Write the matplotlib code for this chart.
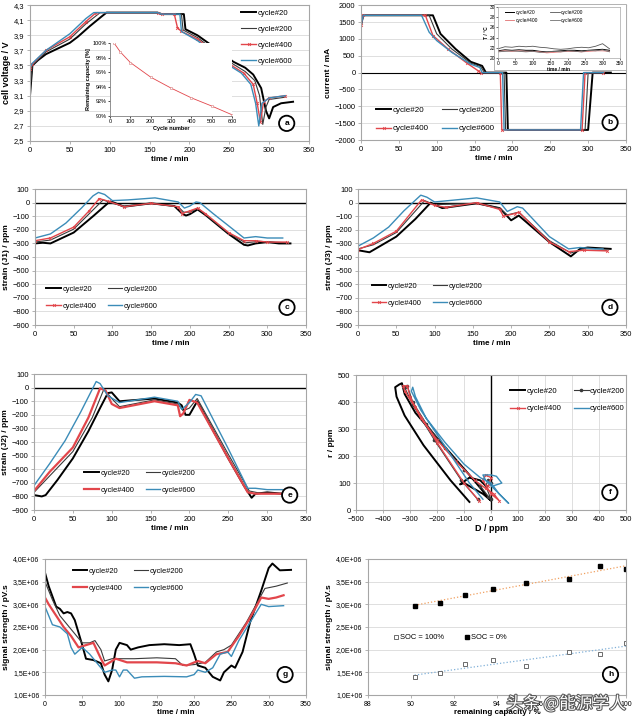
import numpy as np
import matplotlib
matplotlib.use('Agg')
import matplotlib.pyplot as plt
from matplotlib.ticker import FuncFormatter, MultipleLocator, FixedLocator
import matplotlib.patheffects as pe

plt.rcParams['font.family'] = ['Liberation Sans', 'DejaVu Sans']
plt.rcParams['font.size'] = 6

# ---------------- data ----------------
# (a) cell voltage
a20_t = [0, 3, 10, 20, 40, 50, 60, 75, 90, 96, 160, 165, 193, 195, 210, 230, 255, 270, 280, 290, 296, 300, 305, 315, 330]
a20_v = [3.1, 3.5, 3.57, 3.65, 3.75, 3.8, 3.88, 4.02, 4.15, 4.2, 4.2, 4.18, 4.18, 3.98, 3.9, 3.75, 3.55, 3.47, 3.38, 3.2, 2.9, 2.8, 2.95, 3.0, 3.02]
a200_t = [0, 3, 20, 50, 70, 88, 160, 165, 190, 192, 210, 250, 270, 282, 288, 292, 296, 300, 320]
a200_v = [3.2, 3.5, 3.68, 3.85, 4.05, 4.2, 4.2, 4.18, 4.18, 3.97, 3.87, 3.55, 3.42, 3.3, 3.1, 2.72, 2.95, 3.05, 3.08]
a400_t = [0, 3, 20, 50, 70, 83, 160, 165, 181, 185, 190, 210, 250, 268, 280, 285, 289, 293, 300, 320]
a400_v = [3.45, 3.52, 3.7, 3.88, 4.08, 4.2, 4.2, 4.18, 4.18, 4.0, 3.95, 3.85, 3.52, 3.4, 3.25, 3.0, 2.75, 3.02, 3.07, 3.1]
a600_t = [0, 3, 20, 50, 70, 80, 160, 165, 188, 190, 210, 250, 265, 277, 283, 287, 291, 300, 320]
a600_v = [3.47, 3.53, 3.7, 3.92, 4.12, 4.2, 4.2, 4.18, 4.18, 3.95, 3.83, 3.5, 3.4, 3.25, 3.0, 2.7, 3.0, 3.07, 3.1]
volt_ticks = [2.5, 2.7, 2.9, 3.1, 3.3, 3.5, 3.7, 3.9, 4.1, 4.3]

# inset (a): remaining capacity vs cycle
cycles = [20, 50, 100, 200, 300, 400, 500, 600]
capacity = [100.0, 98.8, 97.33, 95.33, 93.83, 92.49, 91.37, 90.17]

# (b) current
b20_t = [0, 3, 95, 105, 125, 145, 160, 165, 192, 194, 300, 306, 330]
b20_i = [1400, 1700, 1700, 1150, 700, 320, 200, 0, 0, -1700, -1700, 0, 0]
b200_t = [0, 3, 90, 100, 120, 145, 158, 163, 189, 191, 296, 300, 320]
b200_i = [1400, 1700, 1700, 1150, 700, 280, 180, 0, 0, -1700, -1700, 0, 0]
b400_t = [0, 3, 85, 95, 115, 140, 155, 158, 184, 186, 292, 296, 320]
b400_i = [1400, 1700, 1700, 1100, 700, 280, 50, 0, 0, -1700, -1700, 0, 0]
b600_t = [0, 3, 80, 90, 100, 120, 145, 157, 160, 187, 189, 290, 294, 320]
b600_i = [1400, 1700, 1700, 1200, 950, 600, 250, 150, 0, 0, -1700, -1700, 0, 0]

# inset (b): temperature
temp_t = [0, 20, 40, 60, 80, 100, 120, 140, 160, 180, 200, 220, 240, 260, 280, 300, 320]
temp20 = [21.4, 21.6, 21.5, 21.6, 21.5, 21.5, 21.3, 21.2, 21.3, 21.4, 21.5, 21.5, 21.4, 21.5, 21.6, 21.7, 21.5]
temp200 = [21.8, 22.2, 22.1, 22.3, 22.2, 22.3, 22.1, 22.0, 21.8, 21.7, 21.8, 22.0, 22.1, 22.0, 22.3, 22.8, 21.8]
temp400 = [21.3, 21.4, 21.3, 21.4, 21.3, 21.3, 21.2, 21.0, 21.1, 21.2, 21.3, 21.3, 21.2, 21.3, 21.4, 21.4, 21.3]
temp600 = [21.2, 21.3, 21.4, 21.3, 21.2, 21.3, 21.1, 21.2, 21.3, 21.2, 21.4, 21.3, 21.2, 21.5, 21.4, 21.6, 21.2]

# (c) strain J1
c20_t = [0, 10, 20, 50, 75, 95, 100, 115, 150, 180, 190, 195, 200, 210, 220, 250, 270, 275, 285, 300, 315, 330]
c20_s = [-300, -295, -300, -220, -100, 0, 5, -30, -5, -25, -80, -95, -85, -50, -90, -230, -310, -315, -300, -290, -300, -300]
c200_t = [0, 20, 50, 88, 100, 115, 150, 185, 192, 200, 210, 250, 272, 290, 325]
c200_s = [-290, -275, -195, 20, -5, -25, -5, -30, -70, -70, -40, -225, -295, -285, -295]
c400_t = [0, 20, 50, 70, 83, 95, 115, 150, 185, 190, 200, 210, 220, 250, 270, 285, 300, 325]
c400_s = [-280, -260, -180, -60, 30, 10, -30, -5, -30, -80, -60, -40, -80, -220, -280, -280, -290, -290]
c600_t = [0, 20, 40, 60, 75, 82, 90, 100, 120, 155, 185, 193, 200, 208, 213, 230, 250, 270, 285, 300, 320]
c600_s = [-260, -230, -150, -40, 50, 75, 60, 15, 20, 35, 5, -40, -25, 5, 0, -80, -170, -260, -250, -260, -260]

# (d) strain J3
d20_t = [0, 15, 50, 75, 95, 110, 155, 185, 200, 210, 250, 278, 290, 300, 330]
d20_s = [-350, -365, -250, -120, 0, -40, -5, -40, -130, -95, -290, -395, -340, -330, -340]
d200_t = [0, 20, 50, 87, 100, 155, 185, 195, 210, 250, 278, 290, 325]
d200_s = [-340, -310, -220, 15, -15, -5, -40, -90, -70, -280, -370, -350, -350]
d400_t = [0, 20, 50, 83, 100, 115, 155, 185, 190, 205, 210, 250, 275, 295, 325]
d400_s = [-345, -300, -210, 20, -20, -35, 0, -50, -100, -80, -70, -290, -360, -350, -355]
d600_t = [0, 20, 40, 60, 82, 90, 100, 155, 185, 195, 208, 215, 250, 275, 290, 310, 320]
d600_s = [-320, -260, -180, -60, 55, 40, 5, 35, 5, -65, -30, -40, -250, -340, -330, -340, -340]

# (e) strain J2
e20_t = [0, 10, 15, 30, 50, 70, 85, 95, 100, 110, 155, 185, 190, 195, 200, 210, 250, 270, 280, 285, 300, 320]
e20_s = [-790, -800, -790, -680, -520, -320, -150, -40, -35, -100, -80, -110, -130, -200, -200, -100, -520, -720, -810, -780, -770, -780]
e200_t = [0, 20, 50, 75, 90, 100, 110, 155, 185, 192, 200, 210, 250, 277, 290, 320]
e200_s = [-770, -650, -470, -220, -10, -80, -140, -90, -120, -170, -150, -80, -490, -760, -775, -780]
e400_t = [0, 20, 50, 70, 85, 92, 100, 110, 155, 185, 188, 192, 200, 210, 250, 275, 285, 320]
e400_s = [-760, -620, -440, -220, -5, -20, -120, -150, -100, -130, -210, -190, -90, -110, -520, -770, -780, -780]
e600_t = [0, 20, 40, 60, 80, 85, 95, 110, 155, 185, 190, 200, 208, 215, 250, 275, 285, 300, 320]
e600_s = [-720, -560, -390, -180, 45, 30, -60, -110, -70, -100, -160, -110, -50, -60, -450, -740, -740, -750, -750]

# (f) r vs D
f20_d = [-80, -150, -250, -320, -350, -355, -340, -330, -320, -280, -220, -150, -80, -30, -5, 0, -30, -100, -115, -80, -40, -20]
f20_r = [30, 110, 240, 350, 420, 455, 465, 470, 430, 360, 290, 210, 130, 70, 40, 35, 60, 100, 95, 120, 110, 90]
f200_d = [-50, -110, -210, -290, -320, -310, -290, -240, -170, -100, -40, -10, 0, -20, -10, 0]
f200_r = [40, 110, 260, 390, 455, 460, 400, 320, 230, 150, 90, 50, 40, 90, 110, 100]
f400_d = [-45, -100, -200, -280, -320, -325, -310, -300, -260, -200, -130, -60, -20, 10, 30, 0, -30, -20, 0, -10]
f400_r = [35, 100, 250, 380, 440, 460, 460, 420, 340, 260, 180, 110, 80, 60, 35, 60, 110, 130, 120, 90]
f600_d = [-30, -80, -180, -260, -295, -290, -280, -240, -170, -100, -40, 0, 30, 65, 30, -20, -30, 0, 20, 40, 10]
f600_r = [40, 100, 250, 370, 440, 455, 420, 340, 250, 170, 120, 100, 60, 25, 60, 110, 130, 130, 125, 100, 90]

# (g) signal strength
g20_t = [0, 5, 15, 20, 25, 30, 35, 40, 50, 55, 65, 75, 80, 85, 90, 95, 100, 110, 115, 125, 140, 160, 180, 195, 200, 205, 215, 225, 235, 240, 250, 255, 265, 275, 290, 300, 305, 315, 330]
g20_s = [3.7, 3.4, 2.95, 2.9, 2.8, 2.83, 2.8, 2.65, 2.1, 1.8, 1.77, 1.7, 1.45, 1.3, 1.55, 2.0, 2.15, 2.1, 2.0, 2.05, 2.1, 2.12, 2.1, 2.12, 1.9, 1.65, 1.6, 1.4, 1.32, 1.5, 1.65, 1.6, 1.95, 2.6, 3.3, 3.8, 3.9, 3.75, 3.76]
g200_t = [0, 10, 20, 30, 40, 50, 60, 67, 75, 80, 90, 100, 120, 150, 175, 185, 200, 215, 230, 240, 250, 270, 285, 295, 310, 325]
g200_s = [3.5, 3.1, 2.75, 2.55, 2.35, 2.15, 2.15, 2.2, 2.0, 1.75, 1.8, 1.8, 1.8, 1.82, 1.8, 1.65, 1.67, 1.72, 1.95, 2.0, 2.1, 2.6, 3.05, 3.35, 3.4, 3.47]
g400_t = [0, 5, 15, 25, 35, 45, 55, 65, 75, 80, 95, 110, 150, 175, 190, 205, 215, 230, 245, 260, 275, 290, 300, 310, 320]
g400_s = [3.15, 3.0, 2.75, 2.5, 2.3, 2.05, 2.1, 2.15, 1.8, 1.65, 1.8, 1.72, 1.72, 1.7, 1.65, 1.75, 1.7, 1.9, 1.95, 2.3, 2.7, 3.15, 3.12, 3.15, 3.2]
g600_t = [0, 5, 10, 20, 30, 35, 40, 50, 60, 70, 80, 90, 95, 100, 105, 110, 120, 130, 160, 190, 200, 205, 215, 225, 235, 245, 250, 260, 275, 290, 300, 320]
g600_s = [2.95, 2.75, 2.55, 2.5, 2.35, 2.05, 1.9, 2.05, 1.9, 1.7, 1.5, 1.55, 1.55, 1.4, 1.55, 1.55, 1.37, 1.4, 1.41, 1.4, 1.45, 1.55, 1.5, 1.6, 1.9, 1.95, 1.85, 2.2, 2.6, 3.0, 2.95, 2.97]

# (h) signal strength vs remaining capacity
h_cap = [90.17, 91.37, 92.49, 93.83, 95.33, 97.33, 98.8, 100.0]
h_soc0 = [2.97, 3.04, 3.21, 3.33, 3.47, 3.56, 3.85, 3.77]
h_soc100 = [1.40, 1.48, 1.68, 1.78, 1.64, 1.95, 1.91, 2.14]

labels = ['cycle#20', 'cycle#200', 'cycle#400', 'cycle#600']

# ---------------- styling ----------------
BLACK = '#000000'
GRAY = '#3a3a3a'
RED = '#e2464b'
BLUE = '#3b8cb8'
GRID = '#d9d9d9'
LFS = 5.4   # legend font size
XFS = 5.8   # x label size
YFS = 6     # y label size
TFS = 5.4   # tick label size


def comma(fmt):
    return FuncFormatter(lambda v, p: (fmt % v).replace('.', ','))


def sci(v, p):
    return ('%.1f' % (v / 1e6)).replace('.', ',') + 'E+06'


def style(ax, grid_x=False, tfs=TFS):
    for s in ax.spines.values():
        s.set_color('#a6a6a6')
        s.set_linewidth(0.8)
    ax.tick_params(labelsize=tfs, length=2, width=0.6, color='#a6a6a6', pad=2)
    ax.grid(axis='y', color=GRID, lw=0.6)
    if grid_x:
        ax.grid(axis='x', color=GRID, lw=0.6)
    ax.set_axisbelow(True)


def badge(ax, letter, x, y):
    ax.text(x, y, letter, transform=ax.transAxes, ha='center', va='center',
            fontsize=6, fontweight='bold',
            bbox=dict(boxstyle='circle,pad=0.5', fc='white', ec='black', lw=1.3), zorder=10)


def draw4(ax, data, red_marker='x', red_lw=1.0):
    (t1, y1), (t2, y2), (t3, y3), (t4, y4) = data
    h1, = ax.plot(t1, y1, color=BLACK, lw=1.4, label=labels[0])
    h2, = ax.plot(t2, y2, color=GRAY, lw=0.8, label=labels[1])
    h3, = ax.plot(t3, y3, color=RED, lw=red_lw, marker=red_marker, ms=2, mew=0.6, label=labels[2])
    h4, = ax.plot(t4, y4, color=BLUE, lw=1.0, label=labels[3])
    return [h1, h2, h3, h4]


def legend2(ax, handles, x, y, fs=LFS):
    order = [handles[0], handles[2], handles[1], handles[3]]
    ax.legend(order, [h.get_label() for h in order], ncol=2, loc='upper left',
              bbox_to_anchor=(x, y), frameon=False, fontsize=fs, handlelength=1.9,
              handletextpad=0.2, columnspacing=1.6, labelspacing=1.3, borderaxespad=0, borderpad=0.2)


fig = plt.figure(figsize=(6.37, 7.21), dpi=100)

# ---- (a)
ax = fig.add_axes([0.0471, 0.8044, 0.438, 0.1886])
style(ax)
hs = draw4(ax, [(a20_t, a20_v), (a200_t, a200_v), (a400_t, a400_v), (a600_t, a600_v)])
ax.set_xlim(0, 350)
ax.set_ylim(2.5, 4.3)
ax.xaxis.set_major_locator(MultipleLocator(50))
ax.yaxis.set_major_locator(FixedLocator(volt_ticks))
ax.yaxis.set_major_formatter(comma('%.1f'))
ax.set_xlabel('time / min', fontsize=XFS, fontweight='bold', labelpad=2)
ax.set_ylabel('cell voltage / V', fontsize=6.5, fontweight='bold', labelpad=2)
ax.legend(hs, labels, loc='upper left', bbox_to_anchor=(0.75, 0.98), frameon=False, fontsize=5.6,
          handlelength=2.0, handletextpad=0.2, labelspacing=1.1, borderaxespad=0, borderpad=0.2)
badge(ax, 'a', 0.92, 0.13)

axi = fig.add_axes([0.1727, 0.8391, 0.1915, 0.1012])
axi.plot(cycles, np.array(capacity) / 100, color=RED, lw=0.6, marker='o', ms=1.8,
         mfc='white', mec='#d98080', mew=0.4)
axi.set_xlim(0, 600)
axi.set_ylim(0.9, 1.0)
axi.xaxis.set_major_locator(MultipleLocator(100))
axi.yaxis.set_major_locator(MultipleLocator(0.02))
axi.yaxis.set_major_formatter(FuncFormatter(lambda v, p: '%d%%' % round(v * 100)))
axi.tick_params(labelsize=4, length=1.5, width=0.5, pad=1)
for s in ['top', 'right']:
    axi.spines[s].set_visible(False)
for s in ['left', 'bottom']:
    axi.spines[s].set_color('#808080')
    axi.spines[s].set_linewidth(0.6)
axi.set_xlabel('Cycle number', fontsize=4, fontweight='bold', labelpad=1)
axi.set_ylabel('Remaining capacity [%]', fontsize=4, fontweight='bold', labelpad=1)

# ---- (b)
ax = fig.add_axes([0.5667, 0.8058, 0.416, 0.187])
style(ax)
ax.axhline(0, color=BLACK, lw=0.8, zorder=1)
hs = draw4(ax, [(b20_t, b20_i), (b200_t, b200_i), (b400_t, b400_i), (b600_t, b600_i)])
ax.set_xlim(0, 350)
ax.set_ylim(-2000, 2000)
ax.xaxis.set_major_locator(MultipleLocator(50))
ax.yaxis.set_major_locator(MultipleLocator(500))
ax.set_xlabel('time / min', fontsize=XFS, fontweight='bold', labelpad=2)
ax.set_ylabel('current / mA', fontsize=YFS, fontweight='bold', labelpad=2)
legend2(ax, hs, 0.05, 0.26, fs=5.8)
badge(ax, 'b', 0.94, 0.13)

fig.patches.append(plt.Rectangle((494 / 637, 1 - 70 / 721), 132 / 637, 66 / 721, transform=fig.transFigure,
                                 fc='white', ec='#a6a6a6', lw=0.6, zorder=5))
axi = fig.add_axes([0.7818, 0.9196, 0.1915, 0.0707], zorder=6)
axi.plot(temp_t, temp20, color=BLACK, lw=0.7, label=labels[0])
axi.plot(temp_t, temp200, color='#555555', lw=0.6, label=labels[1])
axi.plot(temp_t, temp400, color='#e07070', lw=0.6, label=labels[2])
axi.plot(temp_t, temp600, color='#707070', lw=0.6, label=labels[3])
axi.set_xlim(0, 350)
axi.set_ylim(20, 30)
axi.xaxis.set_major_locator(MultipleLocator(50))
axi.yaxis.set_major_locator(MultipleLocator(2))
axi.tick_params(labelsize=3.5, length=1.2, width=0.4, pad=1)
for s in axi.spines.values():
    s.set_color('#a6a6a6')
    s.set_linewidth(0.5)
axi.set_xlabel('time / min', fontsize=3.5, fontweight='bold', labelpad=0.5)
axi.set_ylabel('T / °C', fontsize=3.5, fontweight='bold', labelpad=0.5)
ih = axi.get_lines()
iorder = [ih[0], ih[2], ih[1], ih[3]]
axi.legend(iorder, [h.get_label() for h in iorder], ncol=2, loc='upper left', bbox_to_anchor=(0.05, 0.95),
           frameon=False, fontsize=3.5, handlelength=2, handletextpad=0.2, columnspacing=2.5,
           labelspacing=0.6, borderaxespad=0, borderpad=0.1)


def strain_panel(rect, data, ylabel, lx, ly, letter, bx, by, red_marker='x', red_lw=1.0):
    ax = fig.add_axes(rect)
    style(ax)
    ax.axhline(0, color=BLACK, lw=1.0, zorder=1)
    hs = draw4(ax, data, red_marker=red_marker, red_lw=red_lw)
    ax.set_xlim(0, 350)
    ax.set_ylim(-900, 100)
    ax.xaxis.set_major_locator(MultipleLocator(50))
    ax.yaxis.set_major_locator(MultipleLocator(100))
    ax.set_xlabel('time / min', fontsize=XFS, fontweight='bold', labelpad=2)
    ax.set_ylabel(ylabel, fontsize=YFS, fontweight='bold', labelpad=2)
    legend2(ax, hs, lx, ly)
    badge(ax, letter, bx, by)
    return ax


strain_panel([0.0549, 0.5492, 0.4254, 0.1886],
             [(c20_t, c20_s), (c200_t, c200_s), (c400_t, c400_s), (c600_t, c600_s)],
             'strain (J1) / ppm', 0.037, 0.30, 'c', 0.93, 0.13)
strain_panel([0.562, 0.5492, 0.4207, 0.1886],
             [(d20_t, d20_s), (d200_t, d200_s), (d400_t, d400_s), (d600_t, d600_s)],
             'strain (J3) / ppm', 0.045, 0.324, 'd', 0.94, 0.13)
strain_panel([0.0534, 0.2926, 0.427, 0.1886],
             [(e20_t, e20_s), (e200_t, e200_s), (e400_t, e400_s), (e600_t, e600_s)],
             'strain (J2) / ppm', 0.18, 0.309, 'e', 0.94, 0.11, red_marker=None, red_lw=1.6)

# ---- (f)
ax = fig.add_axes([0.5589, 0.2926, 0.4239, 0.1872])
style(ax, grid_x=True)
ax.axvline(0, color=BLACK, lw=1.0, zorder=1)
h1, = ax.plot(f20_d, f20_r, color=BLACK, lw=1.4, label=labels[0])
h2, = ax.plot(f200_d, f200_r, color=GRAY, lw=0.8, marker='o', ms=1.6, label=labels[1])
h3, = ax.plot(f400_d, f400_r, color=RED, lw=1.0, marker='x', ms=2, mew=0.6, label=labels[2])
h4, = ax.plot(f600_d, f600_r, color=BLUE, lw=1.0, label=labels[3])
ax.set_xlim(-500, 500)
ax.set_ylim(0, 500)
ax.xaxis.set_major_locator(MultipleLocator(100))
ax.yaxis.set_major_locator(MultipleLocator(100))
ax.set_xlabel('D / ppm', fontsize=6.5, fontweight='bold', labelpad=1)
ax.set_ylabel('r / ppm', fontsize=YFS, fontweight='bold', labelpad=2)
legend2(ax, [h1, h2, h3, h4], 0.565, 0.92, fs=5.6)
badge(ax, 'f', 0.94, 0.13)

# ---- (g)
ax = fig.add_axes([0.0706, 0.0361, 0.4097, 0.1886])
style(ax, tfs=5)
hs = draw4(ax, [(g20_t, np.array(g20_s) * 1e6), (g200_t, np.array(g200_s) * 1e6),
                (g400_t, np.array(g400_s) * 1e6), (g600_t, np.array(g600_s) * 1e6)],
           red_marker=None, red_lw=1.6)
ax.set_xlim(0, 350)
ax.set_ylim(1e6, 4e6)
ax.xaxis.set_major_locator(MultipleLocator(50))
ax.yaxis.set_major_locator(MultipleLocator(5e5))
ax.yaxis.set_major_formatter(FuncFormatter(sci))
ax.set_xlabel('time / min', fontsize=XFS, fontweight='bold', labelpad=1)
ax.set_ylabel('signal strength / pV.s', fontsize=YFS, fontweight='bold', labelpad=2)
legend2(ax, hs, 0.1, 0.95)
badge(ax, 'g', 0.92, 0.15)

# ---- (h)
ax = fig.add_axes([0.5777, 0.0361, 0.405, 0.1886])
style(ax, tfs=5)
cap = np.array(h_cap)
s0 = np.array(h_soc0) * 1e6
s100 = np.array(h_soc100) * 1e6
p0 = np.polyfit(cap, s0, 1)
p100 = np.polyfit(cap, s100, 1)
ax.plot(cap, np.polyval(p0, cap), color='#f0a060', lw=0.9, ls=':')
ax.plot(cap, np.polyval(p100, cap), color='#80b0d8', lw=0.9, ls=':')
m1, = ax.plot(cap, s100, ls='none', marker='s', ms=3.5, mfc='white', mec='#555555', mew=0.6, label='SOC = 100%')
m2, = ax.plot(cap, s0, ls='none', marker='s', ms=3.5, mfc='black', mec='black', label='SOC = 0%')
ax.set_xlim(88, 100)
ax.set_ylim(1e6, 4e6)
ax.xaxis.set_major_locator(MultipleLocator(2))
ax.yaxis.set_major_locator(MultipleLocator(5e5))
ax.yaxis.set_major_formatter(FuncFormatter(sci))
ax.set_xlabel('remaining capacity / %', fontsize=XFS, fontweight='bold', labelpad=1)
ax.set_ylabel('signal strength / pV.s', fontsize=YFS, fontweight='bold', labelpad=2)
ax.legend([m1, m2], ['SOC = 100%', 'SOC = 0%'], ncol=2, loc='upper left', bbox_to_anchor=(0.09, 0.46),
          frameon=False, fontsize=LFS, handlelength=0.8, handletextpad=0.2, columnspacing=2.6,
          borderaxespad=0, borderpad=0.2)
badge(ax, 'h', 0.94, 0.15)

# watermark
fig.text(0.795, 0.0236, '头条 @能源学人', family=['Noto Sans CJK SC', 'DejaVu Sans'], fontsize=12,
         color='white', ha='left', va='center', zorder=20,
         path_effects=[pe.withStroke(linewidth=1.5, foreground='#555555')])

fig.savefig('out.png', dpi=100)
